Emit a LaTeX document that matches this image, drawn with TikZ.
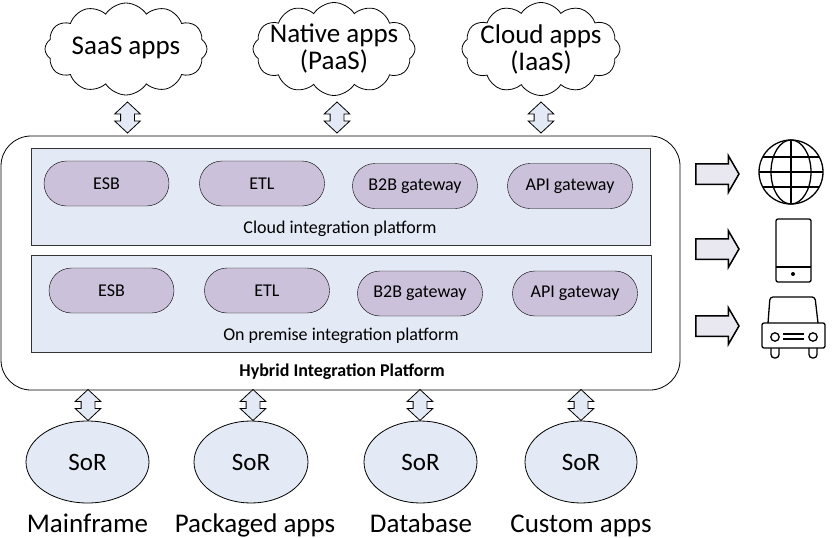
\documentclass[tikz,border=0pt]{standalone}
\usepackage{fontspec}
\setmainfont{Carlito}
\usetikzlibrary{shapes.symbols,shapes.arrows,shapes.geometric,shapes.misc}
\definecolor{panelblue}{HTML}{E4EAF5}
\definecolor{pillviolet}{HTML}{CCC1DA}
\definecolor{arrowlilac}{HTML}{E9E7F0}
\tikzset{
  cloudapp/.style={cloud, draw=black, thick, cloud puffs=12, cloud puff arc=115, aspect=1.75, inner sep=0pt},
  cloudtext/.style={inner sep=0pt, align=center, font=\fontsize{27}{27}\selectfont},
  platform/.style={draw=black!80, thick, fill=panelblue, rectangle, minimum height=97pt, anchor=north west, inner sep=0pt},
  pill/.style={draw=black, fill=pillviolet, rounded rectangle, minimum width=125pt, minimum height=45pt, inner sep=0pt, font=\fontsize{18}{20}\selectfont},
  linkarrow/.style={double arrow, draw=black, thick, fill=panelblue, rotate=90, minimum height=31pt, inner xsep=0pt, inner ysep=6.5pt, double arrow head extend=6pt, double arrow tip angle=94},
  outarrow/.style={single arrow, draw=black, line width=1.5pt, fill=arrowlilac, minimum height=43pt, inner xsep=0pt, inner ysep=9.5pt, single arrow head extend=8pt, single arrow tip angle=120},
  sor/.style={ellipse, draw=black, thick, fill=panelblue, minimum height=82pt, inner sep=0pt, font=\fontsize{25}{27}\selectfont},
  caption/.style={inner sep=0pt, anchor=base, font=\fontsize{27}{27}\selectfont},
  small/.style={inner sep=0pt, font=\fontsize{18}{20}\selectfont},
  icon/.style={line width=1.3pt, line join=round}
}
\begin{document}
\begin{tikzpicture}[x=1pt,y=-1pt]
  \useasboundingbox (0,0) rectangle (833,538);
  % clouds
  \node[cloudapp, minimum width=162pt, minimum height=92pt, label={[cloudtext, yshift=1pt]center:SaaS apps}] (saas) at (126,49) {};
  \node[cloudapp, minimum width=162pt, minimum height=93pt, label={[cloudtext]center:Native apps\\(PaaS)}] (native) at (334,49) {};
  \node[cloudapp, minimum width=158pt, minimum height=93pt, label={[cloudtext]center:Cloud apps\\(IaaS)}] (cloudapps) at (541,49) {};
  % platform
  \draw[thick, rounded corners=30pt, fill=white] (1,136) rectangle (680,390);
  \node[platform, minimum width=619pt] (cloudpf) at (31,148) {};
  \node[platform, minimum width=620pt] (prempf) at (31,255) {};
  \node[pill] (esba) at (106.5,183.5) {ESB};
  \node[pill] (etla) at (262,183.5) {ETL};
  \node[pill] (b2ba) at (415,186) {B2B gateway};
  \node[pill] (apia) at (570,186) {API gateway};
  \node[small] (cloudlabel) at (340,228.5) {Cloud integration platform};
  \node[pill] (esbb) at (111.5,290.5) {ESB};
  \node[pill] (etlb) at (267,290.5) {ETL};
  \node[pill] (b2bb) at (420,293.5) {B2B gateway};
  \node[pill] (apib) at (575,293.5) {API gateway};
  \node[small] (premlabel) at (341,335.5) {On premise integration platform};
  \node[small, font=\fontsize{18}{20}\selectfont\bfseries] (hybrid) at (342,371.5) {Hybrid Integration Platform};
  % arrows top and bottom
  \node[linkarrow] (linka) at (127.5,117.5) {};
  \node[linkarrow] (linkb) at (337,117.5) {};
  \node[linkarrow] (linkc) at (541,117.5) {};
  \node[linkarrow] (linkd) at (88,405) {};
  \node[linkarrow] (linke) at (253,405) {};
  \node[linkarrow] (linkf) at (420,405) {};
  \node[linkarrow] (linkg) at (581,405) {};
  % systems of record
  \node[sor, minimum width=123pt] (sora) at (87.5,462) {SoR};
  \node[sor, minimum width=114pt] (sorb) at (251,462) {SoR};
  \node[sor, minimum width=113pt] (sorc) at (420.5,462) {SoR};
  \node[sor, minimum width=112pt] (sord) at (581,462) {SoR};
  \node[caption] (capa) at (87.5,532) {Mainframe};
  \node[caption] (capb) at (255,532) {Packaged apps};
  \node[caption] (capc) at (421,532) {Database};
  \node[caption] (capd) at (581,532) {Custom apps};
  % outputs
  \node[outarrow] (outa) at (714.5,174) {};
  \node[outarrow] (outb) at (714.5,249) {};
  \node[outarrow] (outc) at (714.5,326) {};
  % globe
  \draw[icon] (791,172) circle [radius=32];
  \draw[icon] (791,172) ellipse [x radius=20, y radius=32];
  \draw[icon] (791,140) -- (791,204);
  \draw[icon] (759,172) -- (823,172);
  \draw[icon] (763,157) -- (819,157);
  \draw[icon] (763,187) -- (819,187);
  % phone
  \draw[icon, rounded corners=2pt] (776,219) rectangle (811,282);
  \draw[icon] (776,267) -- (811,267);
  \fill (793,274) circle [radius=2];
  % car
  \draw[icon, rounded corners=3pt] (768,323) -- (770,297) -- (815,297) -- (818,323);
  \draw[icon, rounded corners=2pt] (762,323) rectangle (825,348);
  \draw[icon] (775,337) circle [radius=4.2];
  \draw[icon] (813,337) circle [radius=4.2];
  \draw[icon] (783,334) -- (804,334);
  \draw[icon] (783,339) -- (804,339);
  \draw[icon, rounded corners=3.5pt] (771,348) -- (771,358) -- (779,358) -- (779,348);
  \draw[icon, rounded corners=3.5pt] (809,348) -- (809,358) -- (817,358) -- (817,348);
\end{tikzpicture}
\end{document}
